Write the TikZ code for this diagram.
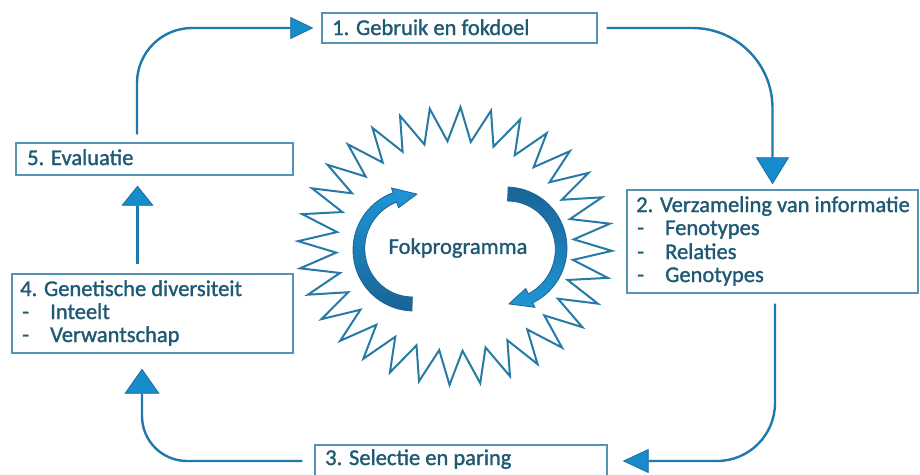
\documentclass[tikz,border=0pt]{standalone}
\usepackage{fontspec}
\setmainfont{Carlito}[BoldFont=Carlito, BoldFeatures={FakeBold=1.3}]
\usetikzlibrary{arrows.meta}
\definecolor{boxc}{RGB}{85,148,178}
\definecolor{txtc}{RGB}{30,90,116}
\definecolor{linec}{RGB}{30,122,172}
\definecolor{tipfill}{RGB}{22,140,205}
\definecolor{tipdraw}{RGB}{28,108,155}
\definecolor{starc}{RGB}{38,122,165}
\definecolor{arrlight}{RGB}{30,150,215}
\definecolor{arrdark}{RGB}{26,100,150}
\begin{document}
\begin{tikzpicture}[x=1pt,y=-1pt,
  box/.style={draw=boxc, line width=1.4pt, fill=white, inner sep=0pt},
  txt/.style={anchor=base west, inner sep=0pt, text=txtc, font=\fontsize{22.5pt}{24pt}\selectfont\bfseries},
  conn/.style={draw=linec, line width=2.4pt},
  tipA/.style={-{Triangle[length=#1,fill=tipfill,color=tipdraw,line width=0.8pt]}},
  starline/.style={draw=starc, line width=2pt, fill=white, line join=miter},
  roundarr/.style={draw=arrdark, line width=0.8pt}
]
\useasboundingbox[fill=white] (0,0) rectangle (920,474);

% boxes
\node[box, minimum width=275pt, minimum height=30pt] (b1) at (459.5,28) {};
\node[box, minimum width=291pt, minimum height=103pt] (b2) at (772.5,241.5) {};
\node[box, minimum width=292pt, minimum height=32pt] (b3) at (461,461) {};
\node[box, minimum width=281pt, minimum height=79pt] (b4) at (152.5,313.5) {};
\node[box, minimum width=277pt, minimum height=32pt] (b5) at (154.5,159) {};

% texts
\node[txt] (t1) at (332,35) {1. Gebruik en fokdoel};
\node[txt] (t2) at (636,212) {2. Verzameling van informatie};
\node[txt] (t2d1) at (637,235) {-};
\node[txt] (t2a) at (665,235) {Fenotypes};
\node[txt] (t2d2) at (637,259) {-};
\node[txt] (t2b) at (665,259) {Relaties};
\node[txt] (t2d3) at (637,282) {-};
\node[txt] (t2c) at (665,282) {Genotypes};
\node[txt] (t3) at (325,465) {3. Selectie en paring};
\node[txt] (t4) at (20,296) {4. Genetische diversiteit};
\node[txt] (t4d1) at (22,319) {-};
\node[txt] (t4a) at (50,319) {Inteelt};
\node[txt] (t4d2) at (22,342) {-};
\node[txt] (t4b) at (50,342) {Verwantschap};
\node[txt] (t5) at (27,165) {5. Evaluatie};

% connectors
\draw[conn, rounded corners=55pt, tipA={23pt,width=22pt}, shorten <=8pt, shorten >=8pt]
  ([xshift=-17.5pt]b5.north) |- (b1.west);
\draw[conn, rounded corners=80pt, tipA={27pt,width=33pt}, shorten <=9pt, shorten >=5pt]
  (b1.east) -| (b2.north);
\draw[conn, rounded corners=58pt, tipA={26pt,width=24pt}, shorten <=10pt, shorten >=15pt]
  ([xshift=2.5pt]b2.south) |- (b3.east);
\draw[conn, rounded corners=45pt, tipA={25pt,width=35pt}, shorten <=12pt, shorten >=15pt]
  (b3.west) -| ([xshift=-10.5pt]b4.south);
\draw[conn, tipA={20pt,width=32pt}, shorten <=9pt, shorten >=10pt]
  ([xshift=-15pt]b4.north) -- ([xshift=-17pt]b5.south);

% star
\draw[starline] ({455+157*cos(272)},{246+139*sin(272)})
  \foreach \i in {0,...,31}{
    -- ({455+119*cos(277.625+11.25*\i)},{246+105*sin(277.625+11.25*\i)})
    -- ({455+157*cos(283.25+11.25*\i)},{246+139*sin(283.25+11.25*\i)})
  } -- cycle;

% circular arrows
\draw[roundarr, top color=arrlight, bottom color=arrdark]
  plot[domain=92:250, samples=40] ({414+61*cos(\x)},{250+61*sin(\x)})
  -- ({414+66*cos(250)},{250+66*sin(250)})
  -- ({414+56*cos(273)},{250+56*sin(273)})
  -- ({414+45*cos(250)},{250+45*sin(250)})
  -- plot[domain=250:92, samples=40] ({414+(47+4*(\x-92)/158)*cos(\x)},{250+(47+4*(\x-92)/158)*sin(\x)})
  -- cycle;
\draw[roundarr, top color=arrdark, bottom color=arrlight]
  plot[domain=272:424, samples=40] ({506+61*cos(\x)},{248+61*sin(\x)})
  -- ({506+66*cos(424)},{248+66*sin(424)})
  -- ({506+56*cos(447)},{248+56*sin(447)})
  -- ({506+45*cos(424)},{248+45*sin(424)})
  -- plot[domain=424:272, samples=40] ({506+(47+4*(\x-272)/152)*cos(\x)},{248+(47+4*(\x-272)/152)*sin(\x)})
  -- cycle;

\node[txt, anchor=center] (fp) at (458,248) {Fokprogramma};
\end{tikzpicture}
\end{document}
